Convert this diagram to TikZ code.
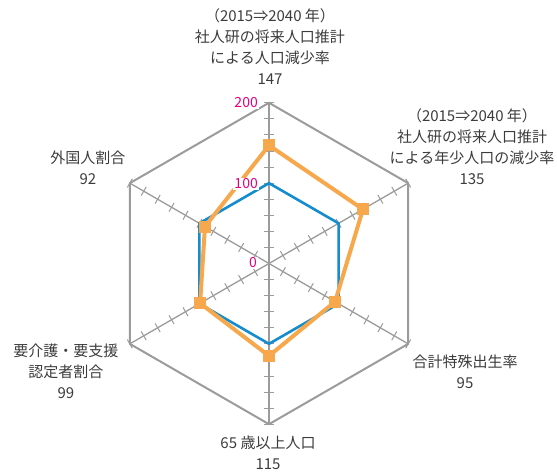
\documentclass[tikz,border=0pt]{standalone}
\usepackage{fontspec}
\setmainfont{Noto Sans CJK JP}
\definecolor{axisgray}{RGB}{155,155,155}
\definecolor{refblue}{RGB}{20,140,205}
\definecolor{dataorange}{RGB}{247,168,76}
\definecolor{scalepink}{RGB}{230,0,126}
\definecolor{labelgray}{RGB}{60,60,60}
\usetikzlibrary{positioning, calc}

\begin{document}
\begin{tikzpicture}[x=1pt, y=1pt,
  axislabel/.style={text=labelgray, align=center, font=\fontsize{15}{21}\selectfont, inner sep=0pt},
  scalelabel/.style={text=scalepink, fill=white, font=\fontsize{14}{15}\selectfont, anchor=east, inner sep=1pt},
  datapt/.style={fill=dataorange, minimum size=12pt, inner sep=0pt}]
  \useasboundingbox (-269,-208.5) rectangle (288,263.5);

  % Axes with tick marks
  \coordinate (o) at (0,0);
  \foreach \a [count=\i] in {90,30,-30,-90,-150,150}{
    \coordinate (v\i) at (\a:160.7);
    \draw[axisgray, line width=1.3pt] (o) -- (v\i);
    \foreach \t in {1,...,10}
      \draw[axisgray, line width=1pt] ($(o)!0.1*\t!(v\i)$) ++(\a+90:5) -- ++(\a-90:10);
  }

  % Outer frame (200)
  \draw[axisgray, line width=2pt, line join=round] (v1) -- (v2) -- (v3) -- (v4) -- (v5) -- (v6) -- cycle;

  % Reference line (100)
  \foreach \a [count=\i] in {90,30,-30,-90,-150,150}
    \coordinate (h\i) at (\a:80.35);
  \draw[refblue, line width=2.6pt, line join=round] (h1) -- (h2) -- (h3) -- (h4) -- (h5) -- (h6) -- cycle;

  % Data polygon
  \foreach \a/\v [count=\i] in {90/147,30/135,-30/95,-90/115,-150/99,150/92}
    \coordinate (d\i) at (\a:0.8035*\v);
  \draw[dataorange, line width=4pt, line join=round] (d1) -- (d2) -- (d3) -- (d4) -- (d5) -- (d6) -- cycle;
  \foreach \i in {1,...,6}
    \node[datapt] (p\i) at (d\i) {};

  % Scale
  \node[scalelabel] (s200) at (-10,160.5) {200};
  \node[scalelabel] (s100) at (-10,79.5) {100};
  \node[scalelabel] (s0) at (-11,0.5) {0};

  % Axis labels
  \node[axislabel] (l1) at (1,216.5) {（2015⇒2040 年）\\社人研の将来人口推計\\による人口減少率\\147};
  \node[axislabel] (l2) at (203,117) {（2015⇒2040 年）\\社人研の将来人口推計\\による年少人口の減少率\\135};
  \node[axislabel] (l3) at (196,-108.5) {合計特殊出生率\\95};
  \node[axislabel] (l4) at (-1,-189) {65 歳以上人口\\115};
  \node[axislabel] (l5) at (-203,-108) {要介護・要支援\\認定者割合\\99};
  \node[axislabel] (l6) at (-181,96) {外国人割合\\92};
\end{tikzpicture}
\end{document}
